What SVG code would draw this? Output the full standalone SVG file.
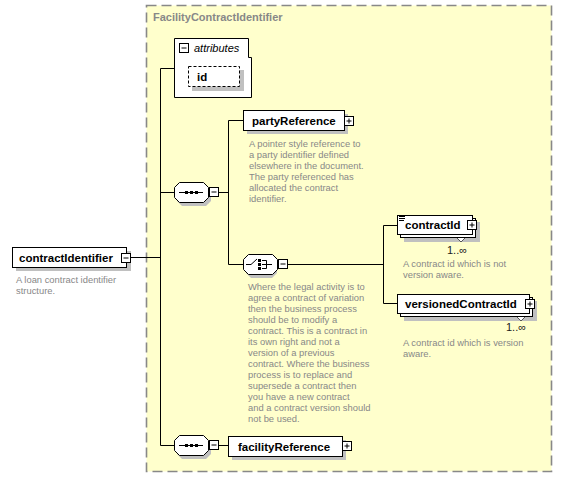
<svg xmlns="http://www.w3.org/2000/svg" width="562" height="478" viewBox="0 0 562 478">
<defs>
<style>
.bg{fill:#ffffcc;stroke:#888;stroke-width:1.6;stroke-dasharray:10,5}
.title{font-family:"Liberation Sans",Arial,sans-serif;font-size:11px;font-weight:bold;fill:#888}
.box{fill:#fff;stroke:#000;stroke-width:1}
.shadow{fill:#c0c0c0;stroke:none}
.lbl{font-family:"Liberation Sans",Arial,sans-serif;font-size:11.5px;font-weight:bold;fill:#000}
.desc{font-family:"Liberation Sans",Arial,sans-serif;font-size:9.4px;fill:#888}
.occ{font-family:"Liberation Sans",Arial,sans-serif;font-size:11px;fill:#202020}
.conn{fill:none;stroke:#000;stroke-width:1}
.pm{fill:#fff;stroke:#000;stroke-width:1}
.pmline{stroke:#000;stroke-width:1}
</style>
</defs>
<rect width="562" height="478" fill="#fff"/>
<g id="FacilityContractIdentifier">
<rect class="bg" x="146.5" y="5.5" width="405" height="466"/>
<text class="title" x="153" y="21">FacilityContractIdentifier</text>
</g>
<g id="connectors">
<path class="conn" d="M130,257.5H160.5M160.5,68.5V445.5M160.5,68.5H174M160.5,192.5H174M160.5,445.5H174M218,192.5H228.5M228.5,120.5V264.5M228.5,120.5H243M228.5,264.5H243M287,264.5H383.5M383.5,225.5V303.5M383.5,225.5H397M383.5,303.5H397M218,445.5H228"/>
</g>
<g id="attributes">
<path class="box" d="M174.5,38.5H248.5V57.5H251.5V97.5H174.5Z"/>
<rect class="pm" x="179.5" y="43.5" width="9" height="9"/>
<path class="pmline" d="M181.5,48H186.5"/>
<text x="194" y="52" style="font-family:'Liberation Sans',Arial,sans-serif;font-size:11px;font-style:italic;fill:#000">attributes</text>
<g id="id">
<rect class="shadow" x="192" y="70" width="52" height="21"/>
<rect x="188.5" y="66.5" width="51" height="20" fill="#fff" stroke="#000" stroke-dasharray="3,2"/>
<text class="lbl" x="197" y="81">id</text>
</g>
</g>
<g id="contractIdentifier">
<rect class="shadow" x="16" y="251" width="115" height="20"/>
<rect class="box" x="12.5" y="247.5" width="114" height="20"/>
<text class="lbl" x="19" y="262">contractIdentifier</text>
<rect class="pm" x="121.5" y="253.5" width="9" height="9"/>
<path class="pmline" d="M123.5,258H128.5"/>
<text class="desc" x="16" y="283">A loan contract identifier</text>
<text class="desc" x="16" y="294">structure.</text>
</g>
<g id="sequence1">
<polygon class="shadow" points="182,186 206,186 211,191 211,201 206,206 182,206 177,201 177,191"/>
<polygon class="box" points="179.5,182.5 203.5,182.5 208.5,187.5 208.5,197.5 203.5,202.5 179.5,202.5 174.5,197.5 174.5,187.5"/>
<path class="pmline" d="M179,192.5H203"/>
<rect x="185" y="191" width="3" height="3" fill="#000"/>
<rect x="190" y="191" width="3" height="3" fill="#000"/>
<rect x="195" y="191" width="3" height="3" fill="#000"/>
<rect class="pm" x="209.5" y="187.5" width="9" height="9"/>
<path class="pmline" d="M211.5,192H216.5"/>
</g>
<g id="partyReference">
<rect class="shadow" x="247" y="114" width="101" height="20"/>
<rect class="box" x="243.5" y="110.5" width="101" height="20"/>
<text class="lbl" x="252" y="125">partyReference</text>
<rect class="pm" x="344.5" y="116.5" width="9" height="9"/>
<path class="pmline" d="M346.5,121H351.5M349,118.5V123.5"/>
<text class="desc" x="249" y="147">A pointer style reference to</text>
<text class="desc" x="249" y="158">a party identifier defined</text>
<text class="desc" x="249" y="169">elsewhere in the document.</text>
<text class="desc" x="249" y="180">The party referenced has</text>
<text class="desc" x="249" y="191">allocated the contract</text>
<text class="desc" x="249" y="202">identifier.</text>
</g>
<g id="choice">
<polygon class="shadow" points="251,258 272,258 277,263 277,273 272,278 251,278 246,273 246,263"/>
<polygon class="box" points="248.5,254.5 272.5,254.5 277.5,259.5 277.5,269.5 272.5,274.5 248.5,274.5 243.5,269.5 243.5,259.5"/>
<path class="pmline" d="M246,264.5H251L257,259M262,260.5H266.5V268.5H262M262,264.5H272" fill="none"/>
<rect x="258" y="259" width="3" height="3" fill="#000"/>
<rect x="258" y="263" width="3" height="3" fill="#000"/>
<rect x="258" y="267" width="3" height="3" fill="#000"/>
<rect class="pm" x="278.5" y="259.5" width="9" height="9"/>
<path class="pmline" d="M280.5,264H285.5"/>
<text class="desc" x="248" y="290">Where the legal activity is to</text>
<text class="desc" x="248" y="301">agree a contract of variation</text>
<text class="desc" x="248" y="312">then the business process</text>
<text class="desc" x="248" y="323">should be to modify a</text>
<text class="desc" x="248" y="334">contract. This is a contract in</text>
<text class="desc" x="248" y="345">its own right and not a</text>
<text class="desc" x="248" y="356">version of a previous</text>
<text class="desc" x="248" y="367">contract. Where the business</text>
<text class="desc" x="248" y="378">process is to replace and</text>
<text class="desc" x="248" y="389">supersede a contract then</text>
<text class="desc" x="248" y="400">you have a new contract</text>
<text class="desc" x="248" y="411">and a contract version should</text>
<text class="desc" x="248" y="422">not be used.</text>
</g>
<g id="contractId">
<rect class="shadow" x="404" y="222" width="76" height="20"/>
<rect class="box" x="400.5" y="218.5" width="75" height="19"/>
<rect class="box" x="397.5" y="215.5" width="75" height="19"/>
<path class="pmline" d="M399,216.5H405M399,218.5H405M399,220.5H404"/>
<text class="lbl" x="405" y="229">contractId</text>
<rect class="pm" x="467.5" y="220.5" width="9" height="9"/>
<path class="pmline" d="M469.5,225H474.5M472,222.5V227.5"/>
<path d="M457,238L461,242L465,238" fill="#fff" stroke="#555"/>
<text class="occ" x="447" y="254">1..∞</text>
<text class="desc" x="403" y="267">A contract id which is not</text>
<text class="desc" x="403" y="278">version aware.</text>
</g>
<g id="versionedContractId">
<rect class="shadow" x="404" y="301" width="133" height="20"/>
<rect class="box" x="400.5" y="297.5" width="132" height="19"/>
<rect class="box" x="397.5" y="294.5" width="132" height="19"/>
<text class="lbl" x="405" y="308">versionedContractId</text>
<rect class="pm" x="525.5" y="299.5" width="9" height="9"/>
<path class="pmline" d="M527.5,304H532.5M530,301.5V306.5"/>
<path d="M517,317L521,321L525,317" fill="#fff" stroke="#555"/>
<text class="occ" x="506" y="331">1..∞</text>
<text class="desc" x="403" y="346">A contract id which is version</text>
<text class="desc" x="403" y="357">aware.</text>
</g>
<g id="sequence2">
<polygon class="shadow" points="182,439 206,439 211,444 211,454 206,459 182,459 177,454 177,444"/>
<polygon class="box" points="179.5,435.5 203.5,435.5 208.5,440.5 208.5,450.5 203.5,455.5 179.5,455.5 174.5,450.5 174.5,440.5"/>
<path class="pmline" d="M179,445.5H203"/>
<rect x="185" y="444" width="3" height="3" fill="#000"/>
<rect x="190" y="444" width="3" height="3" fill="#000"/>
<rect x="195" y="444" width="3" height="3" fill="#000"/>
<rect class="pm" x="209.5" y="440.5" width="9" height="9"/>
<path class="pmline" d="M211.5,445H216.5"/>
</g>
<g id="facilityReference">
<rect class="shadow" x="232" y="440" width="114" height="20"/>
<rect class="box" x="228.5" y="436.5" width="114" height="20"/>
<text class="lbl" x="238" y="451">facilityReference</text>
<rect class="pm" x="342.5" y="441.5" width="9" height="9"/>
<path class="pmline" d="M344.5,446H349.5M347,443.5V448.5"/>
</g>
</svg>
